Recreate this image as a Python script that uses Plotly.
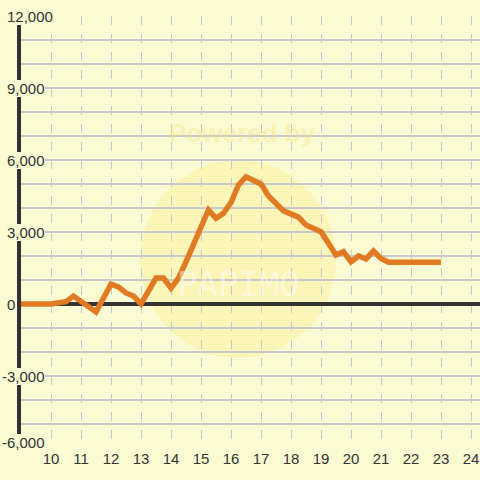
import plotly.graph_objects as go

hours = [9.0, 10.0, 10.5, 10.75, 11.5, 12.0, 12.25, 12.5, 12.75, 13.0, 13.5, 13.75,
         14.0, 14.25, 14.5, 14.75, 15.0, 15.25, 15.5, 15.75, 16.0, 16.25, 16.5, 17.0,
         17.25, 17.75, 18.25, 18.5, 19.0, 19.5, 19.75, 20.0, 20.25, 20.5, 20.75, 21.0,
         21.25, 23.0]
values = [0, 0, 100, 330, -330, 830, 710, 460, 330, 0, 1080, 1080,
          660, 1080, 1760, 2460, 3150, 3920, 3570, 3780, 4230, 4960, 5300, 5000,
          4500, 3880, 3620, 3290, 3010, 2040, 2180, 1760, 2000, 1875, 2210, 1900,
          1740, 1740]
x_ticks = list(range(10, 25))
y_ticks = [12000, 9000, 6000, 3000, 0, -3000, -6000]
y_tick_labels = ["12,000", "9,000", "6,000", "3,000", "0", "-3,000", "-6,000"]

BG = "#fbfbd3"
GRID = "#c8c8cc"
DARK = "#333333"
FONT = "Liberation Sans, Arial, sans-serif"

fig = go.Figure()
fig.add_trace(go.Scatter(x=hours, y=values, mode="lines",
                         line=dict(color="#e07b24", width=5.5), hoverinfo="skip"))

# faint watermark
fig.add_shape(type="circle", xref="x", yref="y", layer="below",
              x0=9 + (140 - 21) / 30, x1=9 + (336 - 21) / 30,
              y0=(304 - 358) / 24 * 1000, y1=(304 - 160) / 24 * 1000,
              fillcolor="rgba(255,225,90,0.22)", line=dict(width=0))

annotations = []
for v, t in zip(y_ticks, y_tick_labels):
    shift_x = -19 if t.startswith("-") else -14
    annotations.append(dict(x=0, xref="paper", y=v, yref="y", text=t, showarrow=False,
                            xanchor="left", yanchor="middle", xshift=shift_x + 0,
                            yshift=6 if v == -6000 else 0,
                            font=dict(family=FONT, size=15, color=DARK),
                            bgcolor=BG, borderpad=0, borderwidth=0))
annotations.append(dict(x=9 + (242 - 21) / 30, xref="x", y=(304 - 133) / 24 * 1000, yref="y",
                        text="<b>Powered by</b>", showarrow=False,
                        font=dict(family=FONT, size=26, color="rgba(245,225,120,0.35)")))
annotations.append(dict(x=9 + (238 - 21) / 30, xref="x", y=(304 - 284) / 24 * 1000, yref="y",
                        text="PAPIMO", showarrow=False,
                        font=dict(family="DejaVu Sans Mono", size=34,
                                  color="rgba(255,255,255,0.45)")))

fig.update_layout(
    width=480, height=480,
    margin=dict(l=21, r=0, t=16, b=32),
    paper_bgcolor=BG, plot_bgcolor=BG,
    showlegend=False,
    annotations=annotations,
    xaxis=dict(range=[9, 9 + 459 / 30], tickvals=x_ticks, ticktext=[str(t) for t in x_ticks],
               showgrid=True, gridcolor=GRID, griddash="dash", gridwidth=1,
               zeroline=False, showline=False, ticks="",
               tickfont=dict(family=FONT, size=15, color=DARK)),
    yaxis=dict(range=[-6000, 12000], dtick=1000, showticklabels=False,
               showgrid=True, gridcolor=GRID, gridwidth=1.5,
               zeroline=True, zerolinecolor=DARK, zerolinewidth=3.5,
               showline=True, linecolor=DARK, linewidth=4, ticks=""),
)

fig.write_html("out.html", config={"displayModeBar": False},
               post_script="document.body.style.margin='0';document.body.style.background='%s';" % BG)
